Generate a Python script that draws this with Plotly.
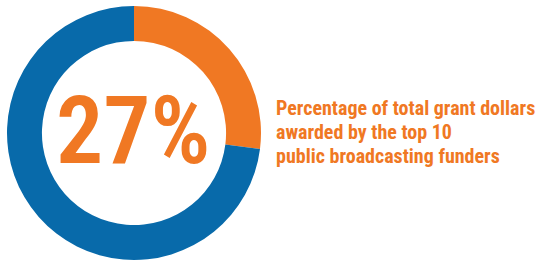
import plotly.graph_objects as go

labels = ["Top 10 public broadcasting funders", "All other funders"]
values = [27, 73]
colors = ["#F07823", "#086AAA"]
center_text = "27%"
caption_lines = ["Percentage of total grant dollars", "awarded by the top 10", "public broadcasting funders"]

W, H = 540, 262

fig = go.Figure(go.Pie(
    labels=labels,
    values=values,
    marker=dict(colors=colors, line=dict(width=0)),
    hole=0.725,
    sort=False,
    direction="clockwise",
    rotation=0,
    textinfo="none",
    hoverinfo="label+percent",
    showlegend=False,
    domain=dict(x=[7 / W, 261 / W], y=[2 / H, 256 / H]),
))

fig.add_annotation(
    text=center_text, x=132.5 / W, y=(H - 131) / H, xref="paper", yref="paper",
    xanchor="center", yanchor="middle", showarrow=False,
    font=dict(family="Roboto Condensed, Liberation Sans, Arial", size=94, weight=600, color=colors[0]),
)
line_y = [108, 132, 156]
for txt, yy in zip(caption_lines, line_y):
    fig.add_annotation(
        text=txt, x=274 / W, y=(H - yy) / H, xref="paper", yref="paper",
        xanchor="left", yanchor="middle", align="left", showarrow=False,
        font=dict(family="Roboto Condensed, Liberation Sans, Arial", size=20, weight="bold", color=colors[0]),
    )

fig.update_layout(
    width=W, height=H,
    margin=dict(l=0, r=0, t=0, b=0),
    paper_bgcolor="white", plot_bgcolor="white",
)
fig.write_html("out.html", config={"displayModeBar": False},
               post_script="document.body.style.margin='0';")
